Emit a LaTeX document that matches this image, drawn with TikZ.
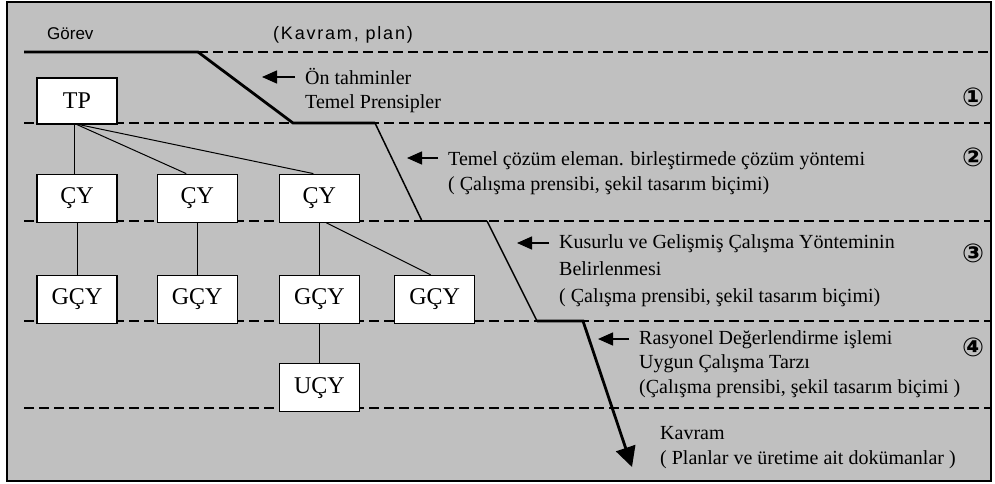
\documentclass[tikz,border=0pt]{standalone}
\usepackage{fontspec}
\setmainfont{Liberation Serif}
\newfontfamily\headfont{Liberation Sans}
\newfontfamily\headwidefont[LetterSpace=10]{Liberation Sans}
\newfontfamily\numfont{DejaVu Sans}
\usepackage{tikz}
\usetikzlibrary{arrows.meta, positioning}
\usepackage{xcolor}
\definecolor{panelgray}{RGB}{192,192,192}

\begin{document}
\begin{tikzpicture}[
    x=1pt, y=-1pt,
    sbox/.style={draw, line width=1.2pt, fill=white, minimum width=80pt, minimum height=48pt, inner sep=0pt, font=\fontsize{24}{24}\selectfont},
    note/.style={anchor=base west, align=left, inner sep=0pt, font=\fontsize{20}{#1}\selectfont},
    note/.default=25pt,
    levelline/.style={dash pattern=on 10pt off 5pt, line width=1.2pt},
    flowthin/.style={line width=1.5pt},
    flowthick/.style={line width=2.8pt},
    notearrow/.style={-{Triangle[length=15pt, width=13pt]}, line width=1.4pt},
    link/.style={line width=1pt},
    stagenum/.style={font=\numfont\bfseries\fontsize{26}{26}\selectfont, inner sep=0pt}
  ]
  \useasboundingbox (0,0) rectangle (995,483);
  \fill[panelgray] (7,2) rectangle (991,481);

  % phase levels
  \draw[levelline] (198,52) -- (990,52);
  \foreach \ly in {123,221,321,408}
    \draw[levelline] (24,\ly) -- (990,\ly);

  % tree of solutions
  \node[sbox, minimum height=46pt] (tp) at (77,101) {TP};
  \node[sbox, below=49pt of tp] (cy1) {ÇY};
  \node[sbox, right=39pt of cy1] (cy2) {ÇY};
  \node[sbox, right=41pt of cy2] (cy3) {ÇY};
  \node[sbox, below=52pt of cy1] (gcy1) {GÇY};
  \node[sbox, below=52pt of cy2] (gcy2) {GÇY};
  \node[sbox, below=52pt of cy3] (gcy3) {GÇY};
  \node[sbox, right=34pt of gcy3] (gcy4) {GÇY};
  \node[sbox, below=39pt of gcy3] (ucy) {UÇY};

  \draw[link] ([xshift=-3pt]tp.south) -- ([xshift=-3pt]cy1.north);
  \draw[link] (tp.south) -- ([xshift=-11pt]cy2.north);
  \draw[link] ([xshift=2pt]tp.south) -- ([xshift=-6pt]cy3.north);
  \draw[link] (cy1) -- (gcy1);
  \draw[link] (cy2) -- (gcy2);
  \draw[link] (cy3) -- (gcy3);
  \draw[link] ([xshift=7pt]cy3.south) -- ([xshift=-4pt]gcy4.north);
  \draw[link] (gcy3) -- (ucy);

  % design flow
  \coordinate (f0) at (24,52);
  \coordinate (f1) at (198,52);
  \coordinate (f2) at (293,123);
  \coordinate (f3) at (375,123);
  \coordinate (f4) at (422,221);
  \coordinate (f5) at (487,221);
  \coordinate (f6) at (537,321);
  \coordinate (f7) at (583,321);
  \coordinate (f8) at (632,467);
  \draw[flowthick] (f0) -- (f1) -- (f2) -- (f3);
  \draw[flowthin] (f3) -- (f4);
  \draw[flowthick] (f4) -- (f5);
  \draw[flowthin] (f5) -- (f6);
  \draw[flowthick, -{Triangle[length=20pt, width=20pt]}] (f6) -- (f7) -- (f8);

  % headings
  \node[anchor=base west, inner sep=0pt, font=\headfont\fontsize{17}{17}\selectfont] (gorev) at (47,39) {Görev};
  \node[anchor=base west, inner sep=0pt, font=\headwidefont\fontsize{18}{18}\selectfont] (kavplan) at (273,39) {(Kavram, plan)};

  % stage notes (base = last line)
  \node[note=24pt] (t1) at (305,108) {Ön tahminler\\Temel Prensipler};
  \node[note=25pt] (t2) at (448,190) {Temel çözüm eleman. birleştirmede çözüm yöntemi\\( Çalışma prensibi, şekil tasarım biçimi)};
  \node[note=27pt] (t3) at (559,302) {Kusurlu ve Gelişmiş Çalışma Yönteminin\\Belirlenmesi\\( Çalışma prensibi, şekil tasarım biçimi)};
  \node[note=24.5pt] (t4) at (639,393) {Rasyonel Değerlendirme işlemi\\Uygun Çalışma Tarzı\\(Çalışma prensibi, şekil tasarım biçimi )};
  \node[note=25pt] (t5) at (660,464) {Kavram\\( Planlar ve üretime ait dokümanlar )};

  \coordinate (a1) at (262,77);
  \coordinate (a2) at (407,158);
  \coordinate (a3) at (517,243);
  \coordinate (a4) at (598,339);
  \draw[notearrow] ([xshift=-10pt]t1.west |- a1) -- (a1);
  \draw[notearrow] ([xshift=-10pt]t2.west |- a2) -- (a2);
  \draw[notearrow] ([xshift=-10pt]t3.west |- a3) -- (a3);
  \draw[notearrow] ([xshift=-10pt]t4.west |- a4) -- (a4);

  \node[stagenum] (s1) at (973,97) {①};
  \node[stagenum] (s2) at (973,157) {②};
  \node[stagenum] (s3) at (973,253) {③};
  \node[stagenum] (s4) at (973,347) {④};

  \draw[line width=2pt] (7,2) rectangle (991,481);
\end{tikzpicture}
\end{document}
